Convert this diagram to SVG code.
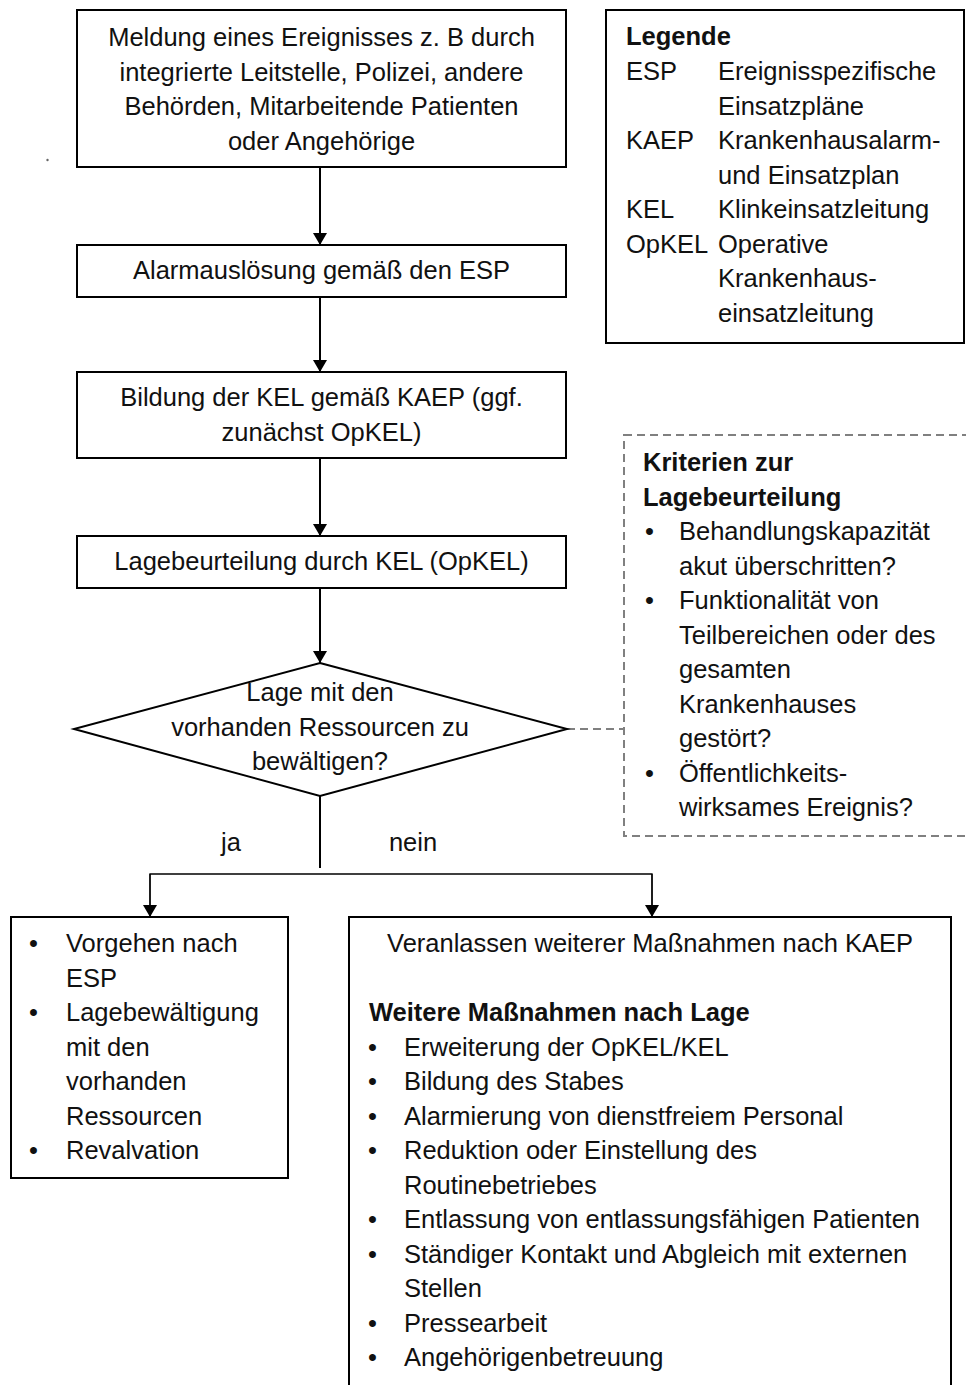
<svg xmlns="http://www.w3.org/2000/svg" width="966" height="1385" viewBox="0 0 966 1385">
  <style>
    text { font-family: "Liberation Sans", Arial, sans-serif; font-size: 25.5px; fill: #111111; }
    .c { text-anchor: middle; }
    .b { font-weight: bold; }
    .box { fill: #ffffff; stroke: #000000; stroke-width: 2; }
    .dash { fill: none; stroke: #808080; stroke-width: 2; stroke-dasharray: 8 5; }
    .flow { fill: none; stroke: #000000; stroke-width: 2; }
    .branch { fill: none; stroke: #000000; stroke-width: 1.3; }
  </style>
  <defs>
    <marker id="arrow" viewBox="0 0 12 14" refX="12" refY="7" markerWidth="12" markerHeight="14" markerUnits="userSpaceOnUse" orient="auto">
      <path d="M0,0 L12,7 L0,14 Z" fill="#000000"/>
    </marker>
  </defs>
  <rect width="966" height="1385" fill="#ffffff"/>

  <!-- stray mark -->
  <circle cx="47.5" cy="160" r="1.2" fill="#666666"/>

  <!-- connectors -->
  <g id="connectors">
    <line class="flow" x1="320" y1="167" x2="320" y2="245" marker-end="url(#arrow)"/>
    <line class="flow" x1="320" y1="297" x2="320" y2="372" marker-end="url(#arrow)"/>
    <line class="flow" x1="320" y1="458" x2="320" y2="536" marker-end="url(#arrow)"/>
    <line class="flow" x1="320" y1="588" x2="320" y2="663" marker-end="url(#arrow)"/>
    <line class="flow" x1="320" y1="796" x2="320" y2="868"/>
    <path class="branch" d="M150,917 V874 H652 V917" />
    <line class="branch" x1="150" y1="874" x2="150" y2="917" marker-end="url(#arrow)"/>
    <line class="branch" x1="652" y1="874" x2="652" y2="917" marker-end="url(#arrow)"/>
    <line class="dash" x1="567" y1="729" x2="624" y2="729" stroke-dasharray="5 3"/>
    <text class="c" x="231" y="851">ja</text>
    <text class="c" x="413" y="851">nein</text>
  </g>

  <!-- start -->
  <g id="meldung">
    <rect class="box" x="77" y="10" width="489" height="157"/>
    <text class="c" x="321.5" y="46">Meldung eines Ereignisses z. B durch</text>
    <text class="c" x="321.5" y="80.5">integrierte Leitstelle, Polizei, andere</text>
    <text class="c" x="321.5" y="115">Behörden, Mitarbeitende Patienten</text>
    <text class="c" x="321.5" y="149.5">oder Angehörige</text>
  </g>

  <g id="alarm">
    <rect class="box" x="77" y="245" width="489" height="52"/>
    <text class="c" x="321.5" y="279">Alarmauslösung gemäß den ESP</text>
  </g>

  <g id="kel">
    <rect class="box" x="77" y="372" width="489" height="86"/>
    <text class="c" x="321.5" y="406">Bildung der KEL gemäß KAEP (ggf.</text>
    <text class="c" x="321.5" y="440.5">zunächst OpKEL)</text>
  </g>

  <g id="lagebeurteilung">
    <rect class="box" x="77" y="536" width="489" height="52"/>
    <text class="c" x="321.5" y="570">Lagebeurteilung durch KEL (OpKEL)</text>
  </g>

  <g id="entscheidung">
    <polygon class="box" points="320,663 567,729 320,796 74,729"/>
    <text class="c" x="320" y="701">Lage mit den</text>
    <text class="c" x="320" y="736">vorhanden Ressourcen zu</text>
    <text class="c" x="320" y="770">bewältigen?</text>
  </g>

  <g id="ja-zweig">
    <rect class="box" x="11" y="917" width="277" height="261"/>
    <text x="29" y="952">•</text><text x="66" y="952">Vorgehen nach</text>
    <text x="66" y="986.5">ESP</text>
    <text x="29" y="1021">•</text><text x="66" y="1021">Lagebewältigung</text>
    <text x="66" y="1055.5">mit den</text>
    <text x="66" y="1090">vorhanden</text>
    <text x="66" y="1124.5">Ressourcen</text>
    <text x="29" y="1159">•</text><text x="66" y="1159">Revalvation</text>
  </g>

  <g id="nein-zweig">
    <rect class="box" x="349" y="917" width="602" height="490"/>
    <text class="c" x="650" y="952">Veranlassen weiterer Maßnahmen nach KAEP</text>
    <text class="b" x="369" y="1021">Weitere Maßnahmen nach Lage</text>
    <text x="368" y="1055.5">•</text><text x="404" y="1055.5">Erweiterung der OpKEL/KEL</text>
    <text x="368" y="1090">•</text><text x="404" y="1090">Bildung des Stabes</text>
    <text x="368" y="1124.5">•</text><text x="404" y="1124.5">Alarmierung von dienstfreiem Personal</text>
    <text x="368" y="1159">•</text><text x="404" y="1159">Reduktion oder Einstellung des</text>
    <text x="404" y="1193.5">Routinebetriebes</text>
    <text x="368" y="1228">•</text><text x="404" y="1228">Entlassung von entlassungsfähigen Patienten</text>
    <text x="368" y="1262.5">•</text><text x="404" y="1262.5">Ständiger Kontakt und Abgleich mit externen</text>
    <text x="404" y="1297">Stellen</text>
    <text x="368" y="1331.5">•</text><text x="404" y="1331.5">Pressearbeit</text>
    <text x="368" y="1366">•</text><text x="404" y="1366">Angehörigenbetreuung</text>
  </g>

  <g id="legende">
    <rect class="box" x="606" y="10" width="358" height="333"/>
    <text class="b" x="626" y="45">Legende</text>
    <text x="626" y="80">ESP</text><text x="718" y="80">Ereignisspezifische</text>
    <text x="718" y="114.5">Einsatzpläne</text>
    <text x="626" y="149">KAEP</text><text x="718" y="149">Krankenhausalarm-</text>
    <text x="718" y="183.5">und Einsatzplan</text>
    <text x="626" y="218">KEL</text><text x="718" y="218">Klinkeinsatzleitung</text>
    <text x="626" y="252.5">OpKEL</text><text x="718" y="252.5">Operative</text>
    <text x="718" y="287">Krankenhaus-</text>
    <text x="718" y="321.5">einsatzleitung</text>
  </g>

  <g id="kriterien">
    <rect class="dash" x="624" y="435" width="360" height="401"/>
    <text class="b" x="643" y="471">Kriterien zur</text>
    <text class="b" x="643" y="505.5">Lagebeurteilung</text>
    <text x="645" y="540">•</text><text x="679" y="540">Behandlungskapazität</text>
    <text x="679" y="574.5">akut überschritten?</text>
    <text x="645" y="609">•</text><text x="679" y="609">Funktionalität von</text>
    <text x="679" y="643.5">Teilbereichen oder des</text>
    <text x="679" y="678">gesamten</text>
    <text x="679" y="712.5">Krankenhauses</text>
    <text x="679" y="747">gestört?</text>
    <text x="645" y="781.5">•</text><text x="679" y="781.5">Öffentlichkeits-</text>
    <text x="679" y="816">wirksames Ereignis?</text>
  </g>
</svg>
